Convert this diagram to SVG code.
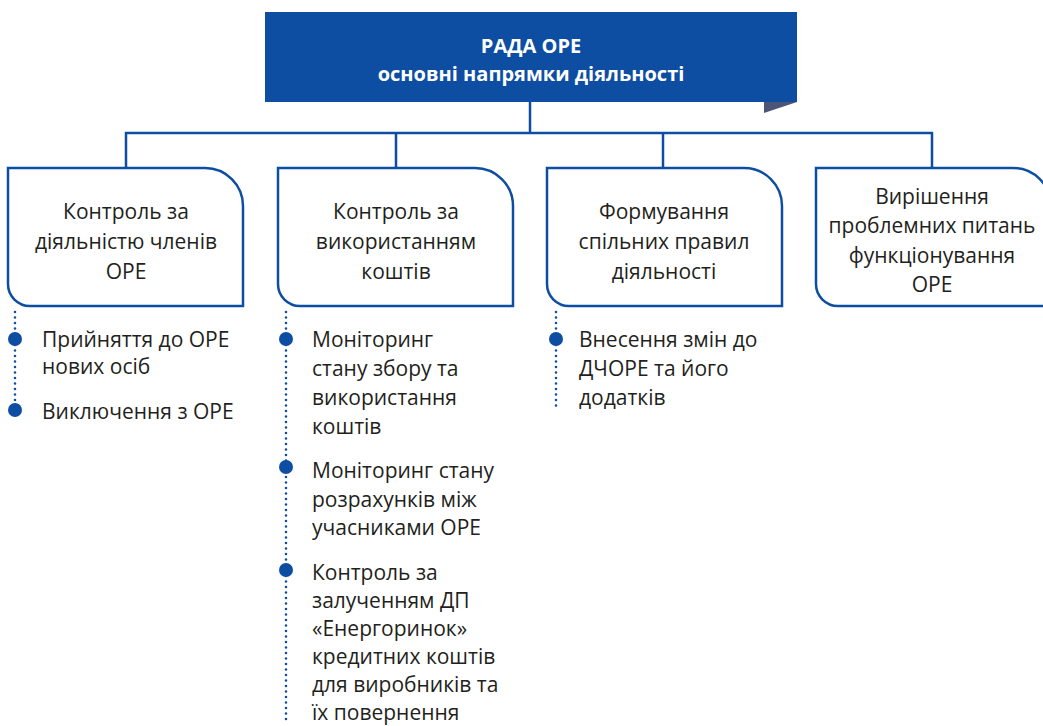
<svg xmlns="http://www.w3.org/2000/svg" width="1043" height="726" viewBox="0 0 1043 726">
<style>
.box{fill:#fff;stroke:#0d4ea3;stroke-width:2.5}
.con{fill:none;stroke:#0d4ea3;stroke-width:2.5}
.dots{fill:none;stroke:#0d4ea3;stroke-width:2.6;stroke-linecap:round;stroke-dasharray:0 5.5}
.dot{fill:#0d4ea3}
.t{font-family:"Open Sans","Liberation Sans",sans-serif;font-size:21px;fill:#231f20}
.c{text-anchor:middle}
.h{font-family:"Open Sans","Liberation Sans",sans-serif;font-size:20px;font-weight:bold;fill:#fff;text-anchor:middle}
</style>
<rect width="1043" height="726" fill="#fff"/>
<g id="connectors">
<path class="con" d="M530 102V133M126 170V133H932V170M396 133V170M663 133V170"/>
</g>
<g id="top">
<rect x="265" y="12" width="532" height="90" fill="#0d4ea3"/>
<polygon points="764,102 797,102 764,113" fill="#4a5578"/>
<text class="h" x="531" y="53">РАДА ОРЕ</text>
<text class="h" x="531" y="81">основні напрямки діяльності</text>
</g>
<g id="n1">
<path class="box" d="M8 168H205A38 38 0 0 1 243 206V306H30A22 22 0 0 1 8 284Z"/>
<text class="t c" x="126" y="219">Контроль за</text>
<text class="t c" x="126" y="249">діяльністю членів</text>
<text class="t c" x="126" y="279">ОРЕ</text>
</g>
<g id="n2">
<path class="box" d="M278 168H475A38 38 0 0 1 513 206V306H300A22 22 0 0 1 278 284Z"/>
<text class="t c" x="396" y="219">Контроль за</text>
<text class="t c" x="396" y="249">використанням</text>
<text class="t c" x="396" y="279">коштів</text>
</g>
<g id="n3">
<path class="box" d="M547 168H744A38 38 0 0 1 782 206V306H569A22 22 0 0 1 547 284Z"/>
<text class="t c" x="664" y="219">Формування</text>
<text class="t c" x="664" y="249">спільних правил</text>
<text class="t c" x="664" y="279">діяльності</text>
</g>
<g id="n4">
<path class="box" d="M816 168H1013A38 38 0 0 1 1051 206V306H838A22 22 0 0 1 816 284Z"/>
<text class="t c" x="932" y="204">Вирішення</text>
<text class="t c" x="932" y="233">проблемних питань</text>
<text class="t c" x="932" y="263">функціонування</text>
<text class="t c" x="932" y="292">ОРЕ</text>
</g>
<g id="list1">
<path class="dots" d="M15 312V410"/>
<circle class="dot" cx="15" cy="339" r="7"/>
<circle class="dot" cx="15" cy="410" r="7"/>
<text class="t" x="42" y="347">Прийняття до ОРЕ</text>
<text class="t" x="42" y="374">нових осіб</text>
<text class="t" x="42" y="419">Виключення з ОРЕ</text>
</g>
<g id="list2">
<path class="dots" d="M286 312V724"/>
<circle class="dot" cx="286" cy="339" r="7"/>
<circle class="dot" cx="286" cy="467" r="7"/>
<circle class="dot" cx="286" cy="570" r="7"/>
<text class="t" x="312" y="347">Моніторинг</text>
<text class="t" x="312" y="376">стану збору та</text>
<text class="t" x="312" y="405">використання</text>
<text class="t" x="312" y="434">коштів</text>
<text class="t" x="312" y="478">Моніторинг стану</text>
<text class="t" x="312" y="507">розрахунків між</text>
<text class="t" x="312" y="535">учасниками ОРЕ</text>
<text class="t" x="312" y="580">Контроль за</text>
<text class="t" x="312" y="608">залученням ДП</text>
<text class="t" x="312" y="636">«Енергоринок»</text>
<text class="t" x="312" y="664">кредитних коштів</text>
<text class="t" x="312" y="692">для виробників та</text>
<text class="t" x="312" y="720">їх повернення</text>
</g>
<g id="list3">
<path class="dots" d="M556 312V408"/>
<circle class="dot" cx="556" cy="339" r="7"/>
<text class="t" x="579" y="347">Внесення змін до</text>
<text class="t" x="579" y="376">ДЧОРЕ та його</text>
<text class="t" x="579" y="405">додатків</text>
</g>
</svg>
